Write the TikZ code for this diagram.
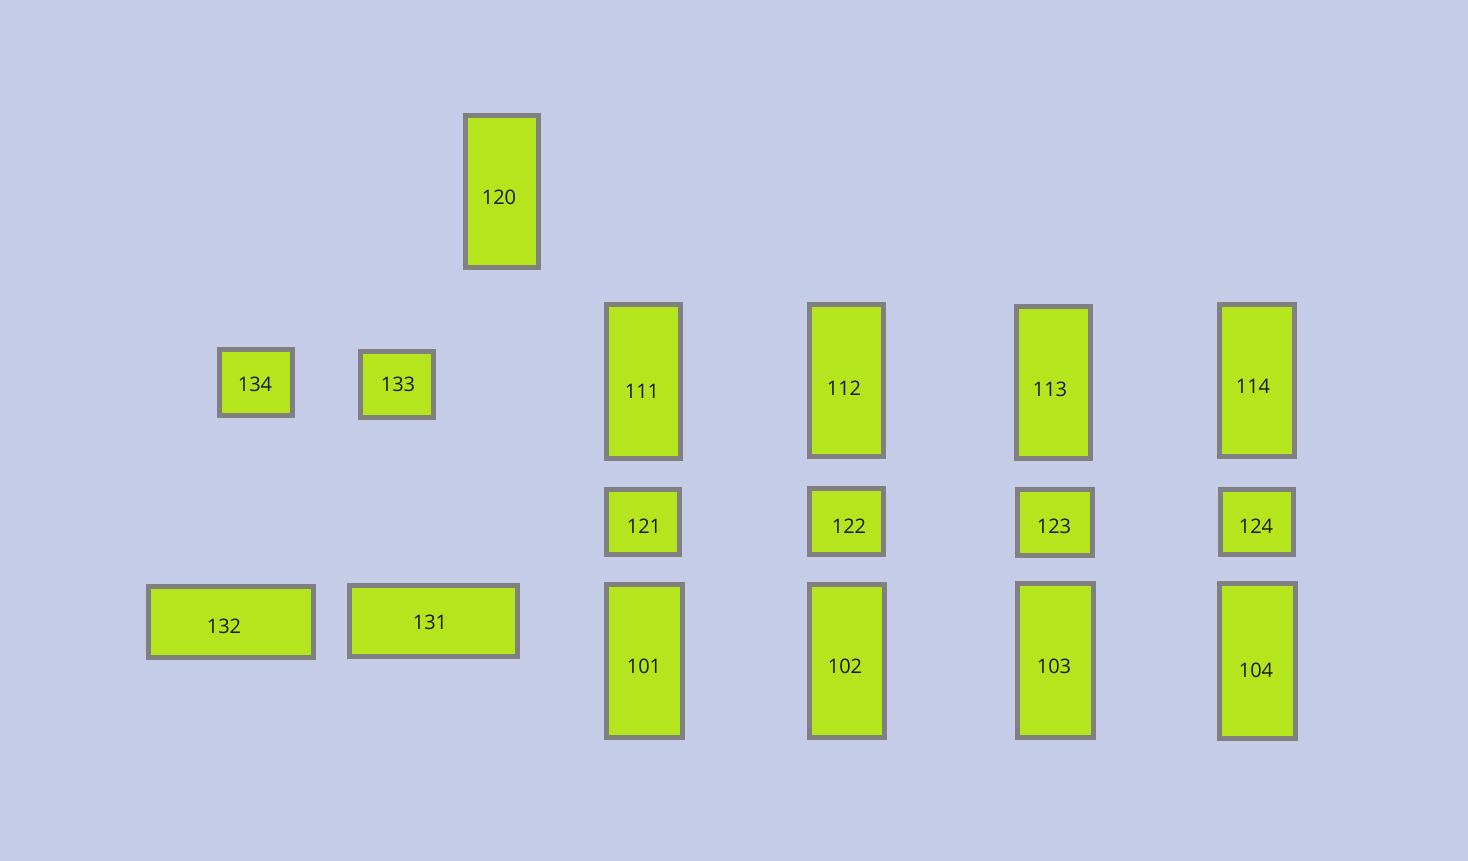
\documentclass[tikz,border=0pt]{standalone}
\usepackage{fontspec}
\setmainfont{Open Sans}
\definecolor{bg}{HTML}{C4CCE8}
\definecolor{boxfill}{HTML}{B5E61D}
\definecolor{boxline}{HTML}{808080}
\definecolor{txt}{HTML}{1A1A1A}
\tikzset{
  slot/.style={draw=boxline, fill=boxfill, line width=5pt, inner sep=0pt, rectangle},
  lbl/.style={text=txt, inner sep=0pt, font=\fontsize{20}{24}\selectfont}
}
\newcommand{\mybox}[6]{% name, x1,y1,x2,y2, label
  \pgfmathsetmacro{\cx}{(#2+#4)/2}\pgfmathsetmacro{\cy}{(#3+#5)/2}%
  \pgfmathsetmacro{\ww}{#4-#2-5}\pgfmathsetmacro{\hh}{#5-#3-5}%
  \node[slot, minimum width=\ww pt, minimum height=\hh pt] (#1) at (\cx,\cy) {};
}
\begin{document}
\begin{tikzpicture}[x=1pt,y=-1pt]
\fill[bg] (0,0) rectangle (1468,861);
\useasboundingbox (0,0) rectangle (1468,861);
\mybox{b120}{463}{113}{541}{270}{}
\mybox{b134}{217}{347}{295}{418}{}
\mybox{b133}{358}{349}{436}{420}{}
\mybox{b111}{604}{302}{683}{461}{}
\mybox{b112}{807}{302}{886}{459}{}
\mybox{b113}{1014}{304}{1093}{461}{}
\mybox{b114}{1217}{302}{1297}{459}{}
\mybox{b121}{604}{487}{682}{557}{}
\mybox{b122}{807}{486}{886}{557}{}
\mybox{b123}{1015}{487}{1095}{558}{}
\mybox{b124}{1218}{487}{1296}{557}{}
\mybox{b132}{146}{584}{316}{660}{}
\mybox{b131}{347}{583}{520}{659}{}
\mybox{b101}{604}{582}{685}{740}{}
\mybox{b102}{807}{582}{887}{740}{}
\mybox{b103}{1015}{581}{1096}{740}{}
\mybox{b104}{1217}{581}{1298}{741}{}
\node[lbl] (t120) at (499,197) {120};
\node[lbl] (t134) at (255,384) {134};
\node[lbl] (t133) at (398,384) {133};
\node[lbl] (t111) at (642,391) {111};
\node[lbl] (t112) at (844,388) {112};
\node[lbl] (t113) at (1050,389) {113};
\node[lbl] (t114) at (1253,386) {114};
\node[lbl] (t121) at (644,526) {121};
\node[lbl] (t122) at (849,526) {122};
\node[lbl] (t123) at (1054,526) {123};
\node[lbl] (t124) at (1256,526) {124};
\node[lbl] (t132) at (224,626) {132};
\node[lbl] (t131) at (430,622) {131};
\node[lbl] (t101) at (644,666) {101};
\node[lbl] (t102) at (845,666) {102};
\node[lbl] (t103) at (1054,666) {103};
\node[lbl] (t104) at (1256,670) {104};
\end{tikzpicture}
\end{document}
